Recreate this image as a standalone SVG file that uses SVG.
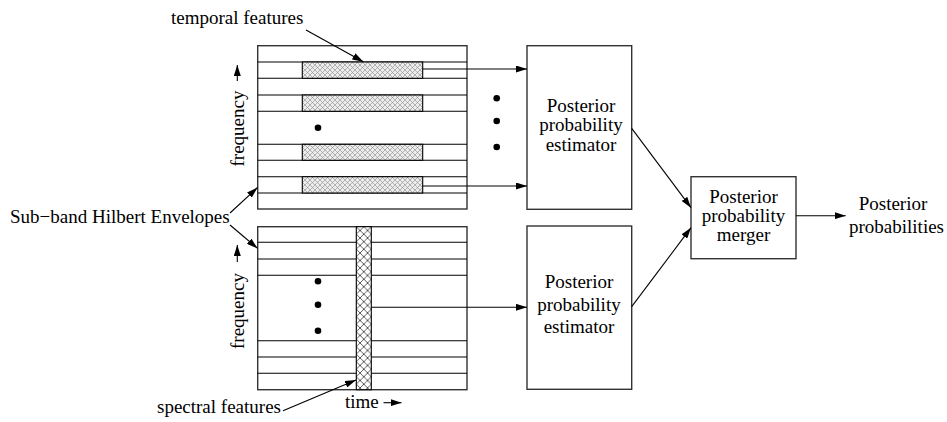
<svg xmlns="http://www.w3.org/2000/svg" width="947" height="422" viewBox="0 0 947 422">
<style>
text{font-family:"Liberation Serif","Times New Roman",serif;font-size:19px;fill:#000}
.box{fill:#fff;stroke:#333;stroke-width:1.4}
.ln{stroke:#000;stroke-width:1.1;fill:none}
.hatch{fill:url(#xh);stroke:#000;stroke-width:1.1}
.hatch2{fill:url(#xh2);stroke:#000;stroke-width:1.1}
.arr{stroke:#000;stroke-width:1.1;fill:none;marker-end:url(#ah)}
.c{text-anchor:middle}
</style>
<defs>
<marker id="ah" viewBox="0 0 11 7" refX="11" refY="3.5" markerWidth="11" markerHeight="7" markerUnits="userSpaceOnUse" orient="auto">
<path d="M0,0 L11,3.5 L0,7 z" fill="#000"/>
</marker>
<pattern id="xh" width="5" height="5" patternUnits="userSpaceOnUse">
<rect width="5" height="5" fill="#ececec"/>
<path d="M0,0 L5,5 M5,0 L0,5" stroke="#8a8a8a" stroke-width="0.6"/>
</pattern>
<pattern id="xh2" width="7.5" height="7.5" patternUnits="userSpaceOnUse" x="356.3" y="226.7">
<rect width="7.5" height="7.5" fill="#fff"/>
<path d="M0,0 L7.5,7.5 M7.5,0 L0,7.5" stroke="#333" stroke-width="0.8"/>
</pattern>
</defs>

<g id="temporal-spectrogram">
<rect class="box" x="257.7" y="45.7" width="209.3" height="163.3"/>
<g class="ln">
<line x1="257.7" y1="62" x2="467" y2="62"/>
<line x1="257.7" y1="78.3" x2="467" y2="78.3"/>
<line x1="257.7" y1="95" x2="467" y2="95"/>
<line x1="257.7" y1="111.3" x2="467" y2="111.3"/>
<line x1="257.7" y1="144.3" x2="467" y2="144.3"/>
<line x1="257.7" y1="160.3" x2="467" y2="160.3"/>
<line x1="257.7" y1="176.7" x2="467" y2="176.7"/>
<line x1="257.7" y1="193" x2="467" y2="193"/>
</g>
<rect class="hatch" x="302.3" y="62" width="120.4" height="16.3"/>
<rect class="hatch" x="302.3" y="95" width="120.4" height="16.3"/>
<rect class="hatch" x="302.3" y="144.3" width="120.4" height="16"/>
<rect class="hatch" x="302.3" y="176.7" width="120.4" height="16.3"/>
<circle cx="318" cy="127.7" r="3.3" fill="#000"/>
<text transform="translate(243.5,166.5) rotate(-90)">frequency</text>
<line class="arr" x1="237.3" y1="81" x2="237.3" y2="65"/>
</g>

<g id="spectral-spectrogram">
<rect class="box" x="257.7" y="226.7" width="209.3" height="163"/>
<g class="ln">
<line x1="257.7" y1="242.3" x2="467" y2="242.3"/>
<line x1="257.7" y1="259" x2="467" y2="259"/>
<line x1="257.7" y1="275.3" x2="467" y2="275.3"/>
<line x1="257.7" y1="340.7" x2="467" y2="340.7"/>
<line x1="257.7" y1="357" x2="467" y2="357"/>
<line x1="257.7" y1="373.3" x2="467" y2="373.3"/>
</g>
<rect class="hatch2" x="356.3" y="226.7" width="15" height="163"/>
<circle cx="318" cy="281.3" r="3.3" fill="#000"/>
<circle cx="318" cy="304.7" r="3.3" fill="#000"/>
<circle cx="318" cy="330.7" r="3.3" fill="#000"/>
<text transform="translate(243.5,349) rotate(-90)">frequency</text>
<line class="arr" x1="237.3" y1="262" x2="237.3" y2="245"/>
<text x="345" y="408.3">time</text>
<line class="arr" x1="383.5" y1="402.7" x2="401.5" y2="402.7"/>
</g>

<g id="estimator-top">
<rect class="box" x="527" y="45.7" width="104.7" height="163.6"/>
<text class="c" x="581" y="111.7">Posterior</text>
<text class="c" x="581" y="130.9">probability</text>
<text class="c" x="581" y="150.7">estimator</text>
</g>

<g id="estimator-bottom">
<rect class="box" x="527" y="226" width="104.7" height="163.3"/>
<text class="c" x="579" y="288.3">Posterior</text>
<text class="c" x="579" y="310.7">probability</text>
<text class="c" x="579" y="332.7">estimator</text>
</g>

<g id="merger">
<rect class="box" x="691" y="176.7" width="105" height="82"/>
<text class="c" x="743.5" y="203">Posterior</text>
<text class="c" x="743.5" y="222.2">probability</text>
<text class="c" x="743.5" y="241.4">merger</text>
</g>

<g id="output-label">
<text class="c" x="893" y="210">Posterior</text>
<text class="c" x="896.5" y="232.7">probabilities</text>
</g>

<g id="labels">
<text x="171" y="24.3">temporal features</text>
<text x="10" y="222.7">Sub−band Hilbert Envelopes</text>
<text x="157" y="413.3">spectral features</text>
</g>

<g id="dots">
<circle cx="496.7" cy="98.3" r="3.3" fill="#000"/>
<circle cx="496.7" cy="121" r="3.3" fill="#000"/>
<circle cx="496.7" cy="147" r="3.3" fill="#000"/>
</g>

<g id="connectors">
<line class="arr" x1="422.7" y1="69" x2="527" y2="69"/>
<line class="arr" x1="422.7" y1="186" x2="527" y2="186"/>
<line class="arr" x1="371.3" y1="307.3" x2="527" y2="307.3"/>
<line class="arr" x1="631.7" y1="128.3" x2="691" y2="207.7"/>
<line class="arr" x1="631.7" y1="306.7" x2="691" y2="227.7"/>
<line class="arr" x1="796" y1="215.7" x2="845.7" y2="215.7"/>
<line class="arr" x1="306" y1="30" x2="363.3" y2="61.7"/>
<line class="arr" x1="283" y1="410.7" x2="356" y2="380"/>
<line class="arr" x1="230" y1="213" x2="257.5" y2="187.5"/>
<line class="arr" x1="230" y1="225" x2="257.5" y2="248.3"/>
</g>
</svg>
